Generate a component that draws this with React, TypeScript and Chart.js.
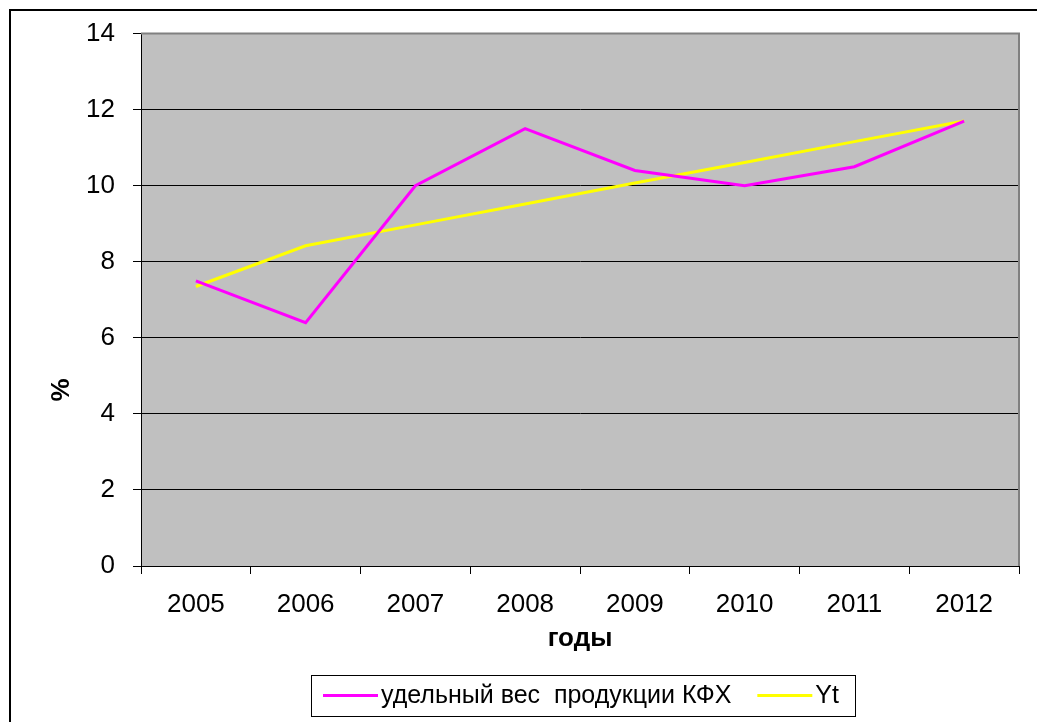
import React, { useEffect, useRef } from "react";
import { Chart, registerables } from "chart.js";

Chart.register(...registerables);

// ---- data ----
const years = ["2005", "2006", "2007", "2008", "2009", "2010", "2011", "2012"];
const shareKFH = [7.5, 6.4, 10.0, 11.5, 10.4, 10.0, 10.5, 11.7];
const trendYt = [7.35, 8.42, 8.97, 9.52, 10.07, 10.61, 11.16, 11.7];
const seriesLabels = ["удельный вес  продукции КФХ", "Yt"];
const seriesColors = ["#FF00FF", "#FFFF00"];
const yMin = 0;
const yMax = 14;
const yStep = 2;
const xTitle = "годы";
const yTitle = "%";

const FONT = "'Liberation Sans', Arial, sans-serif";
const FS = 26;
const LFS = 25;

const decorPlugin = {
  id: "decor",
  beforeDraw(chart: any) {
    const { ctx, chartArea, width, height } = chart;
    ctx.save();
    ctx.fillStyle = "#FFFFFF";
    ctx.fillRect(0, 0, width, height);
    ctx.fillStyle = "#C0C0C0";
    ctx.fillRect(chartArea.left, chartArea.top, chartArea.right - chartArea.left, chartArea.bottom - chartArea.top);
    ctx.restore();
  },
  afterDraw(chart: any) {
    const { ctx, chartArea } = chart;
    ctx.save();
    // outer frame
    ctx.strokeStyle = "#000000";
    ctx.lineWidth = 2;
    ctx.strokeRect(10, 10, 2000, 2000);
    // plot area border (top/right)
    ctx.strokeStyle = "#808080";
    ctx.lineWidth = 2;
    ctx.beginPath();
    ctx.moveTo(chartArea.left, chartArea.top);
    ctx.lineTo(chartArea.right, chartArea.top);
    ctx.lineTo(chartArea.right, chartArea.bottom);
    ctx.stroke();
    // y title
    ctx.fillStyle = "#000000";
    ctx.font = `bold ${FS}px ${FONT}`;
    ctx.textAlign = "center";
    ctx.textBaseline = "middle";
    ctx.translate(62, 390);
    ctx.rotate(-Math.PI / 2);
    ctx.fillText(yTitle, 0, 0);
    ctx.restore();

    // legend
    ctx.save();
    const boxL = 311, boxR = 855, boxT = 675, boxB = 716;
    ctx.fillStyle = "#FFFFFF";
    ctx.fillRect(boxL, boxT, boxR - boxL, boxB - boxT);
    ctx.strokeStyle = "#000000";
    ctx.lineWidth = 1;
    ctx.strokeRect(boxL + 0.5, boxT + 0.5, boxR - boxL, boxB - boxT);
    ctx.font = `${LFS}px ${FONT}`;
    ctx.textBaseline = "middle";
    ctx.textAlign = "left";
    const cy = (boxT + boxB) / 2;
    let x = 323;
    chart.data.datasets.forEach((ds: any) => {
      ctx.strokeStyle = ds.borderColor;
      ctx.lineWidth = 3;
      ctx.beginPath();
      ctx.moveTo(x, cy);
      ctx.lineTo(x + 55, cy);
      ctx.stroke();
      x += 58;
      ctx.fillStyle = "#000000";
      ctx.fillText(ds.label, x, cy + 1);
      x += ctx.measureText(ds.label).width + 26;
    });
    ctx.restore();
  },
};

export default function App() {
  const ref = useRef<HTMLCanvasElement | null>(null);
  useEffect(() => {
    if (!ref.current) return;
    Chart.defaults.font.family = FONT;
    const chart = new Chart(ref.current, {
      type: "line",
      data: {
        labels: years,
        datasets: [
          {
            label: seriesLabels[0],
            data: shareKFH,
            borderColor: seriesColors[0],
            backgroundColor: seriesColors[0],
            borderWidth: 3,
            pointRadius: 0,
            tension: 0,
          },
          {
            label: seriesLabels[1],
            data: trendYt,
            borderColor: seriesColors[1],
            backgroundColor: seriesColors[1],
            borderWidth: 3,
            pointRadius: 0,
            tension: 0,
          },
        ],
      },
      options: {
        responsive: false,
        animation: false,
        layout: { padding: { left: 0, top: 33, right: 18, bottom: 0 } },
        plugins: {
          legend: { display: false },
          tooltip: { enabled: false },
        },
        scales: {
          x: {
            offset: true,
            afterFit: (s: any) => {
              s.height = 156;
            },
            grid: {
              offset: true,
              drawOnChartArea: false,
              drawTicks: true,
              tickLength: 8,
              color: "#000000",
            },
            border: { display: true, color: "#000000", width: 1 },
            ticks: {
              color: "#000000",
              font: { size: FS, family: FONT },
              padding: 15,
              maxRotation: 0,
            },
            title: {
              display: true,
              text: xTitle,
              color: "#000000",
              font: { size: FS, weight: "bold", family: FONT },
              padding: { top: 0, bottom: 68 },
            },
          },
          y: {
            min: yMin,
            max: yMax,
            afterFit: (s: any) => {
              s.width = 141;
            },
            grid: {
              color: "#000000",
              tickLength: 8,
              drawTicks: true,
            },
            border: { display: true, color: "#000000", width: 1 },
            ticks: {
              stepSize: yStep,
              color: "#000000",
              font: { size: FS, family: FONT },
              padding: 18,
            },
          },
        },
      },
      plugins: [decorPlugin],
    } as any);
    return () => chart.destroy();
  }, []);
  return (
    <div style={{ position: "absolute", left: 0, top: 0, width: 1037, height: 722 }}>
      <canvas ref={ref} width={1037} height={722} style={{ display: "block" }} />
    </div>
  );
}
